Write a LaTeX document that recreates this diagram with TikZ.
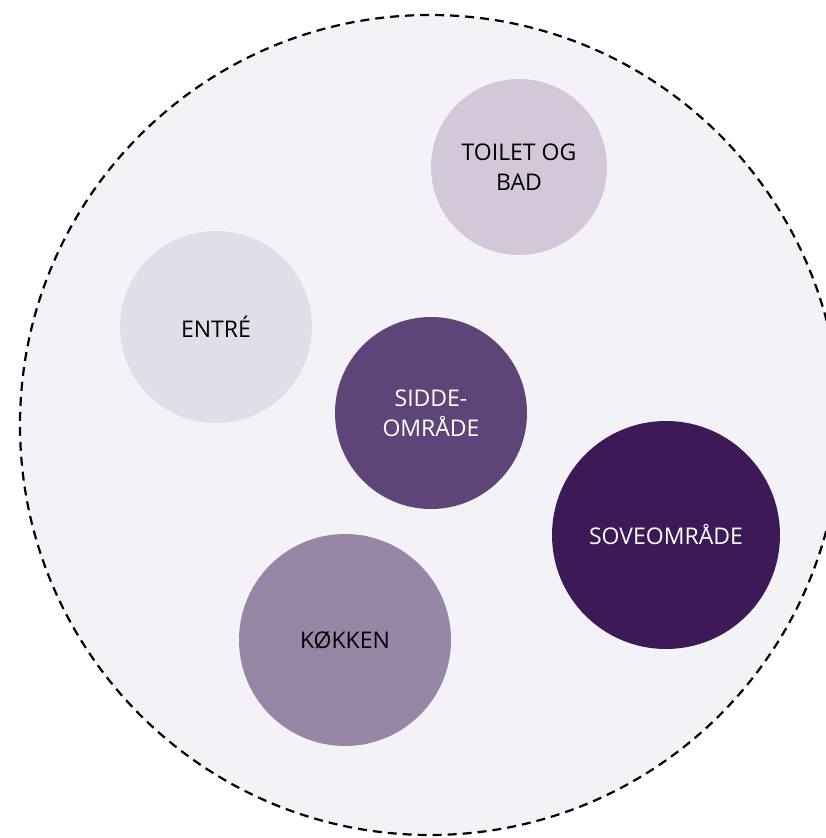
\documentclass[tikz,border=0pt]{standalone}
\usepackage{fontspec}
\setmainfont{Open Sans}
\usepackage{tikz}
\definecolor{roomBg}{HTML}{F3F2F6}
\definecolor{toiletCol}{HTML}{D2C8D9}
\definecolor{entreCol}{HTML}{E2DEE8}
\definecolor{siddeCol}{HTML}{5F4577}
\definecolor{soveCol}{HTML}{3D1A57}
\definecolor{koekkenCol}{HTML}{9886A6}
\tikzset{
    room/.style={circle, inner sep=0pt, outer sep=0pt, align=center, font=\fontsize{23}{30}\selectfont},
    boundary/.style={draw=black, fill=roomBg, dash pattern=on 9pt off 6pt, line width=2.2pt}
}

\begin{document}
\begin{tikzpicture}[x=1pt, y=1pt]
            \useasboundingbox (0,0) rectangle (825,838);
            \draw[boundary] (430,413) circle (410);

            \node[room, fill=toiletCol, minimum size=176pt] (toilet) at (519,671) {TOILET OG\\BAD};
            \node[room, fill=entreCol, minimum size=192pt] (entre) at (216,511) {ENTRÉ};
            \node[room, fill=siddeCol, text=white, minimum size=192pt] (sidde) at (431,425) {SIDDE-\\OMRÅDE};
            \node[room, fill=soveCol, text=white, minimum size=228pt] (sove) at (666,303) {SOVEOMRÅDE};
            \node[room, fill=koekkenCol, minimum size=212pt] (koekken) at (345,198) {KØKKEN};
        \end{tikzpicture}
\end{document}
